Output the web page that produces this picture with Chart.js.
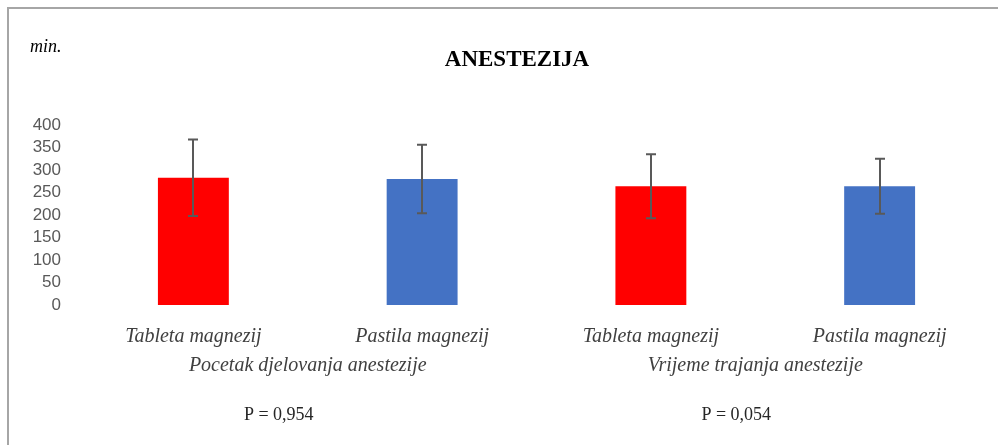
<!DOCTYPE html>
<html>
<head>
<meta charset="utf-8">
<script src="https://cdn.jsdelivr.net/npm/chart.js@4/dist/chart.umd.min.js"></script>
<style>
  html, body { margin: 0; padding: 0; background: #fff; }
  #wrap { width: 998px; height: 445px; position: relative; }
</style>
</head>
<body>
<div id="wrap"><canvas id="c" width="998" height="445"></canvas></div>
<script>
const categories = ["Tableta magnezij", "Pastila magnezij", "Tableta magnezij", "Pastila magnezij"];
const values = [283, 280, 264, 264];
const errors = [85, 76, 71, 61];
const barColors = ["#FF0000", "#4472C4", "#FF0000", "#4472C4"];
const groups = ["Pocetak djelovanja anestezije", "Vrijeme trajanja anestezije"];
const pValues = ["P = 0,954", "P = 0,054"];
const yTicks = [0, 50, 100, 150, 200, 250, 300, 350, 400];
const chartTitle = "ANESTEZIJA";
const yUnit = "min.";

const serif = '"Liberation Serif", "Times New Roman", serif';

const overlay = {
  id: 'overlay',
  afterDatasetsDraw(chart) {
    const ctx = chart.ctx;
    const y = chart.scales.y;
    const meta = chart.getDatasetMeta(0);
    ctx.save();
    ctx.strokeStyle = '#595959';
    ctx.lineWidth = 2;
    meta.data.forEach((bar, i) => {
      const yt = y.getPixelForValue(values[i] + errors[i]);
      const yb = y.getPixelForValue(values[i] - errors[i]);
      const cx = Math.round(bar.x);
      ctx.beginPath();
      ctx.moveTo(cx, yt); ctx.lineTo(cx, yb);
      ctx.moveTo(cx - 5, yt); ctx.lineTo(cx + 5, yt);
      ctx.moveTo(cx - 5, yb); ctx.lineTo(cx + 5, yb);
      ctx.stroke();
    });
    ctx.restore();
  },
  afterDraw(chart) {
    const ctx = chart.ctx;
    const x = chart.scales.x;
    ctx.save();
    // frame
    ctx.strokeStyle = '#a6a6a6';
    ctx.lineWidth = 2;
    ctx.beginPath();
    ctx.moveTo(8, 445); ctx.lineTo(8, 8); ctx.lineTo(998, 8);
    ctx.stroke();
    // title
    ctx.fillStyle = '#000';
    ctx.textAlign = 'center';
    ctx.textBaseline = 'middle';
    ctx.font = 'bold 23px ' + serif;
    ctx.fillText(chartTitle, 517, 60);
    // unit
    ctx.textAlign = 'left';
    ctx.font = 'italic 18px ' + serif;
    ctx.fillStyle = '#000';
    ctx.fillText(yUnit, 30, 47);
    // group labels and p values
    ctx.textAlign = 'center';
    groups.forEach((g, gi) => {
      const x0 = x.getPixelForValue(gi * 2);
      const x1 = x.getPixelForValue(gi * 2 + 1);
      const mid = (x0 + x1) / 2;
      ctx.font = 'italic 20px ' + serif;
      ctx.fillStyle = '#404040';
      ctx.fillText(g, mid - gi * 10, 366);
      ctx.font = '18px ' + serif;
      ctx.fillStyle = '#262626';
      ctx.fillText(pValues[gi], mid - 29, 415);
    });
    ctx.restore();
  }
};

new Chart(document.getElementById('c'), {
  type: 'bar',
  data: {
    labels: categories,
    datasets: [{
      data: values,
      backgroundColor: barColors,
      borderWidth: 0,
      barPercentage: 0.31,
      categoryPercentage: 1.0
    }]
  },
  options: {
    responsive: false,
    animation: false,
    devicePixelRatio: 1,
    layout: { padding: { top: 125, left: 0, right: 4, bottom: 0 } },
    plugins: { legend: { display: false }, tooltip: { enabled: false }, title: { display: false } },
    scales: {
      x: {
        grid: { display: false },
        border: { display: false },
        ticks: {
          color: '#404040',
          font: { family: serif, size: 20, style: 'italic' },
          padding: 12,
          maxRotation: 0,
          autoSkip: false
        },
        afterFit(scale) { scale.height = 140; }
      },
      y: {
        min: 0, max: 400,
        grid: { display: false },
        border: { display: false },
        afterBuildTicks(scale) { scale.ticks = yTicks.map(v => ({ value: v })); },
        ticks: {
          color: '#595959',
          font: { family: '"Liberation Sans", Arial, sans-serif', size: 17 },
          padding: 10,
          autoSkip: false
        },
        afterFit(scale) { scale.width = 79; }
      }
    }
  },
  plugins: [overlay]
});
</script>
</body>
</html>
